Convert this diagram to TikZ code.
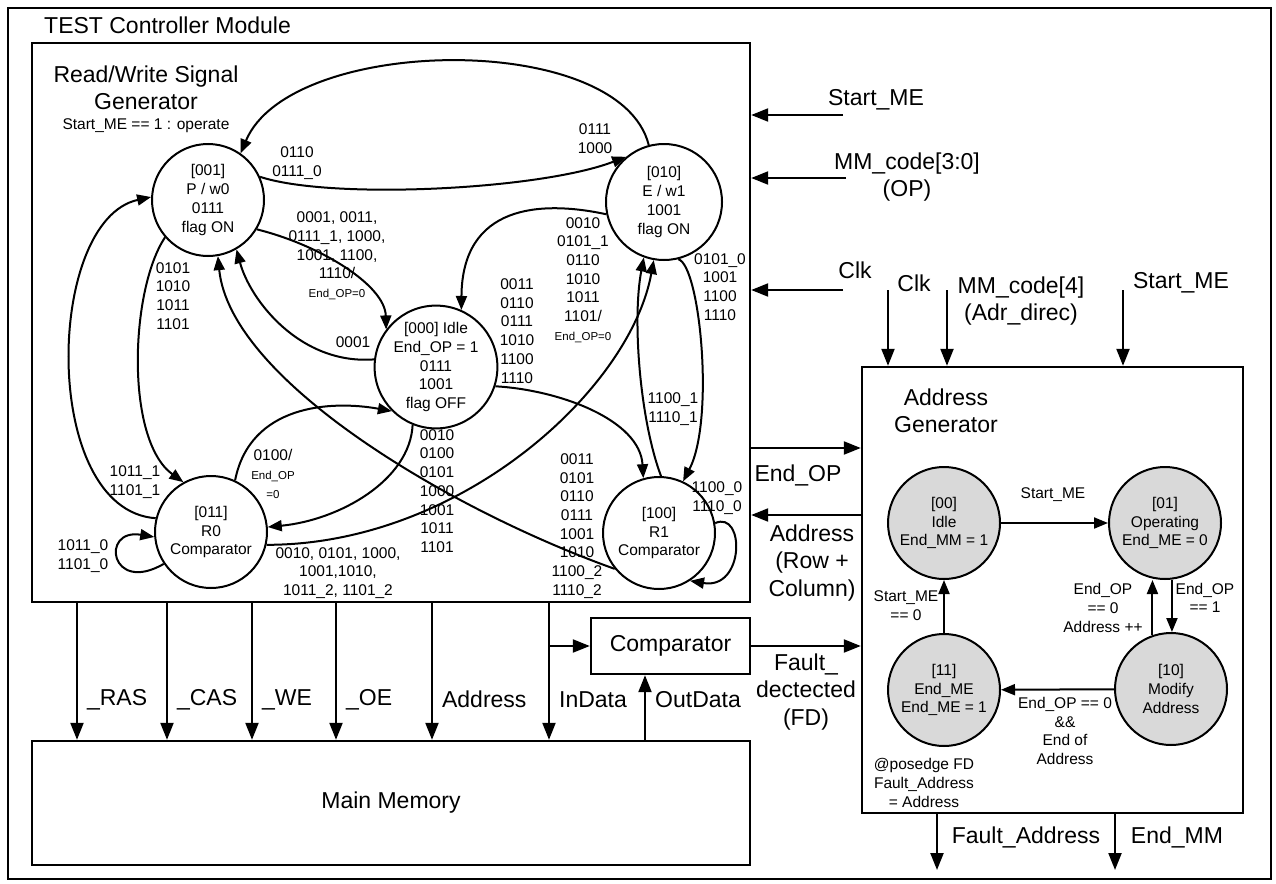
\documentclass[tikz,border=0pt]{standalone}
\usepackage{fontspec}
\setmainfont{Liberation Sans}
\usetikzlibrary{arrows.meta}

\newcommand\fbig{\fontsize{23}{27.5}\selectfont}
\newcommand\fmid{\fontsize{15.5}{18.7}\selectfont}
\newcommand\fsmall{\fontsize{11.5}{14}\selectfont}

\tikzset{
    blockbox/.style={draw, line width=2.4pt, inner sep=0pt},
    rwstate/.style={circle, draw, line width=2pt, fill=white, minimum size=112pt, inner sep=0pt, align=center, font=\fmid},
    adrstate/.style={rwstate, fill=gray!30},
    trans/.style={line width=2pt, -{Triangle[length=14pt,width=11pt]}},
    sigarrow/.style={line width=2.2pt, -{Triangle[length=17pt,width=13pt]}},
    lab/.style={align=center, font=\fmid, inner sep=0pt},
    biglab/.style={align=center, font=\fbig, inner sep=0pt}
}

\begin{document}
\begin{tikzpicture}[x=1pt,y=-1pt]
            \useasboundingbox (0,0) rectangle (1276,883);
            \fill[white] (0,0) rectangle (1276,883);

            % blocks
            \node[blockbox, line width=2pt, minimum width=1263pt, minimum height=871pt] (module) at (639.5,443.5) {};
            \node[blockbox, minimum width=718pt, minimum height=559pt] (rwgen) at (391,322.5) {};
            \node[blockbox, minimum width=381pt, minimum height=446pt] (adrgen) at (1052.5,590) {};
            \node[blockbox, minimum width=159pt, minimum height=56pt, font=\fbig] (cmp) at (670.5,646) {Comparator};
            \node[blockbox, minimum width=718pt, minimum height=124pt, font=\fbig] (mem) at (391,803) {Main Memory};

            \node[anchor=west, font=\fbig, inner sep=0pt] (title) at (44,25) {TEST Controller Module};
            \node[biglab] (rwtitle) at (146,88) {Read/Write Signal\\Generator};
            \node[lab] (rwnote) at (146,126) {Start\_ME == 1 : operate};
            \node[biglab] (adrtitle) at (946,411) {Address\\Generator};

            % read/write states
            \node[rwstate] (p0) at (208,200) {[001]\\P / w0\\0111\\flag ON};
            \node[rwstate, minimum size=116pt] (e1) at (664,202) {[010]\\E / w1\\1001\\flag ON};
            \node[rwstate] (idle) at (436,367) {[000] Idle\\End\_OP = 1\\0111\\1001\\flag OFF};
            \node[rwstate] (r0) at (211,532) {[011]\\R0\\Comparator};
            \node[rwstate] (r1) at (659,533) {[100]\\R1\\Comparator};

            % read/write transitions
            \draw[trans] (e1.105) .. controls (620,30) and (290,35) .. (p0.55);
            \draw[trans] (p0.24) .. controls (330,200) and (540,190) .. (e1.130);
            \draw[trans] (p0.-31) .. controls (320,245) and (385,285) .. (idle.143);
            \draw[trans] (idle.173) .. controls (300,365) and (250,300) .. (p0.-60);
            \draw[trans] (p0.-139) .. controls (130,290) and (125,440) .. (r0.119);
            \draw[trans] (r0.166) .. controls (40,510) and (45,220) .. (p0.177);
            \draw[trans] (r0.214) .. controls (110,595) and (100,528) .. (r0.185);
            \draw[trans] (r0.65) .. controls (250,405) and (330,400) .. (idle.-135);
            \draw[trans] (idle.-112) .. controls (410,480) and (340,520) .. (r0.5);
            \draw[trans] (r0.-13) .. controls (460,545) and (630,390) .. (e1.-100);
            \draw[trans] (idle.-18) .. controls (560,390) and (640,420) .. (r1.106);
            \draw[trans] (e1.192) .. controls (540,200) and (462,205) .. (idle.66);
            \draw[trans] (r1.88) .. controls (640,420) and (632,320) .. (e1.-110);
            \draw[trans] (e1.-76) .. controls (700,265) and (715,420) .. (r1.65);
            \draw[trans] (r1.10) .. controls (745,510) and (745,590) .. (r1.-57);
            \draw[trans] (r1.-141) .. controls (450,510) and (230,380) .. (p0.-80);

            % transition labels
            \node[lab] (l1) at (297,163) {0110\\0111\_0};
            \node[lab] (l2) at (595,139) {0111\\1000};
            \node[lab] (l3) at (337,256) {0001, 0011,\\0111\_1, 1000,\\1001, 1100,\\1110/\\{\fsmall End\_OP=0}};
            \node[lab] (l4) at (353,342) {0001};
            \node[lab] (l5) at (173,296) {0101\\1010\\1011\\1101};
            \node[lab] (l6) at (135,482) {1011\_1\\1101\_1};
            \node[lab] (l7) at (83,556) {1011\_0\\1101\_0};
            \node[lab] (l8) at (273,474) {0100/\\{\fsmall End\_OP}\\{\fsmall =0}};
            \node[lab] (l9) at (437,491) {0010\\0100\\0101\\1000\\1001\\1011\\1101};
            \node[lab] (l10) at (338,573) {0010, 0101, 1000,\\1001,1010,\\1011\_2, 1101\_2};
            \node[lab] (l11) at (517,331) {0011\\0110\\0111\\1010\\1100\\1110};
            \node[lab] (l12) at (583,280) {0010\\0101\_1\\0110\\1010\\1011\\1101/\\{\fsmall End\_OP=0}};
            \node[lab] (l13) at (673,409) {1100\_1\\1110\_1};
            \node[lab] (l14) at (720,287) {0101\_0\\1001\\1100\\1110};
            \node[lab] (l15) at (717,498) {1100\_0\\1110\_0};
            \node[lab] (l16) at (577,526) {0011\\0101\\0110\\0111\\1001\\1010\\1100\_2\\1110\_2};

            % address generator states
            \node[adrstate] (aidle) at (944,523) {[00]\\Idle\\End\_MM = 1};
            \node[adrstate] (aop) at (1165,523) {[01]\\Operating\\End\_ME = 0};
            \node[adrstate] (amod) at (1171,689) {[10]\\Modify\\Address};
            \node[adrstate] (aend) at (944,690) {[11]\\End\_ME\\End\_ME = 1};

            \draw[trans] (aidle) -- (aop);
            \draw[trans] (aop.-83) -- (aop.-83 |- amod.north);
            \draw[trans] (amod.109) -- (amod.109 |- aop.south);
            \draw[trans] (amod) -- (aend);
            \draw[trans] (aend) -- (aidle);

            \node[lab] (a1) at (1053,495) {Start\_ME};
            \node[lab] (a2) at (1205,598) {End\_OP\\== 1};
            \node[lab] (a3) at (1103,608) {End\_OP\\== 0\\Address ++};
            \node[lab] (a4) at (1065,731) {End\_OP == 0\\\&\&\\End of\\Address};
            \node[lab] (a5) at (906,606) {Start\_ME\\== 0};
            \node[lab] (a6) at (924,783) {@posedge FD\\Fault\_Address\\= Address};

            % inputs
            \coordinate (startsrc) at (843,115);
            \coordinate (opsrc) at (846,178);
            \coordinate (clksrc) at (843,290);
            \draw[sigarrow] (startsrc) -- (startsrc -| rwgen.east);
            \draw[sigarrow] (opsrc) -- (opsrc -| rwgen.east);
            \draw[sigarrow] (clksrc) -- (clksrc -| rwgen.east);
            \node[biglab] (startlab) at (876,100) {Start\_ME};
            \node[biglab] (oplab) at (907,177) {MM\_code[3:0]\\(OP)};
            \node[biglab] (clklab) at (855,270) {Clk};

            \coordinate (aclk) at (888,290);
            \coordinate (adir) at (947,290);
            \coordinate (astart) at (1123,290);
            \draw[sigarrow] (aclk) -- (aclk |- adrgen.north);
            \draw[sigarrow] (adir) -- (adir |- adrgen.north);
            \draw[sigarrow] (astart) -- (astart |- adrgen.north);
            \node[biglab] (aclklab) at (914,283) {Clk};
            \node[biglab] (adirlab) at (1021,301) {MM\_code[4]\\(Adr\_direc)};
            \node[biglab] (astartlab) at (1181,283) {Start\_ME};

            % between the blocks
            \draw[sigarrow] (rwgen.east |- 0,448) -- (adrgen.west |- 0,448);
            \draw[sigarrow] (adrgen.west |- 0,515) -- (rwgen.east |- 0,515);
            \draw[sigarrow] (cmp.east) -- (cmp.east -| adrgen.west);
            \node[biglab] (endoplab) at (798,475) {End\_OP};
            \node[biglab] (adrlab) at (812,563) {Address\\(Row +\\Column)};
            \node[biglab] (fdlab) at (806,692) {Fault\_\\dectected\\(FD)};

            % memory signals
            \foreach \sx/\sname/\stext in {77/ras/\_RAS, 167/cas/\_CAS, 252/we/\_WE, 336/oe/\_OE, 432/adr/Address, 549/ind/InData}
            {
                \draw[sigarrow] (\sx,0 |- rwgen.south) -- node[pos=0.705, right=9pt, font=\fbig, inner sep=0pt] (\sname) {\stext} (\sx,0 |- mem.north);
            }
            \draw[sigarrow] (549,0 |- cmp.west) -- (cmp.west);
            \draw[sigarrow] (645,0 |- mem.north) -- (645,0 |- cmp.south);
            \node[biglab, anchor=west] (outlab) at (655,700) {OutData};

            % outputs
            \coordinate (faout) at (937,870);
            \coordinate (emout) at (1115,870);
            \draw[sigarrow] (faout |- adrgen.south) -- (faout);
            \draw[sigarrow] (emout |- adrgen.south) -- (emout);
            \node[biglab] (falab) at (1026,837) {Fault\_Address};
            \node[biglab] (emlab) at (1177,837) {End\_MM};
        \end{tikzpicture}
\end{document}
